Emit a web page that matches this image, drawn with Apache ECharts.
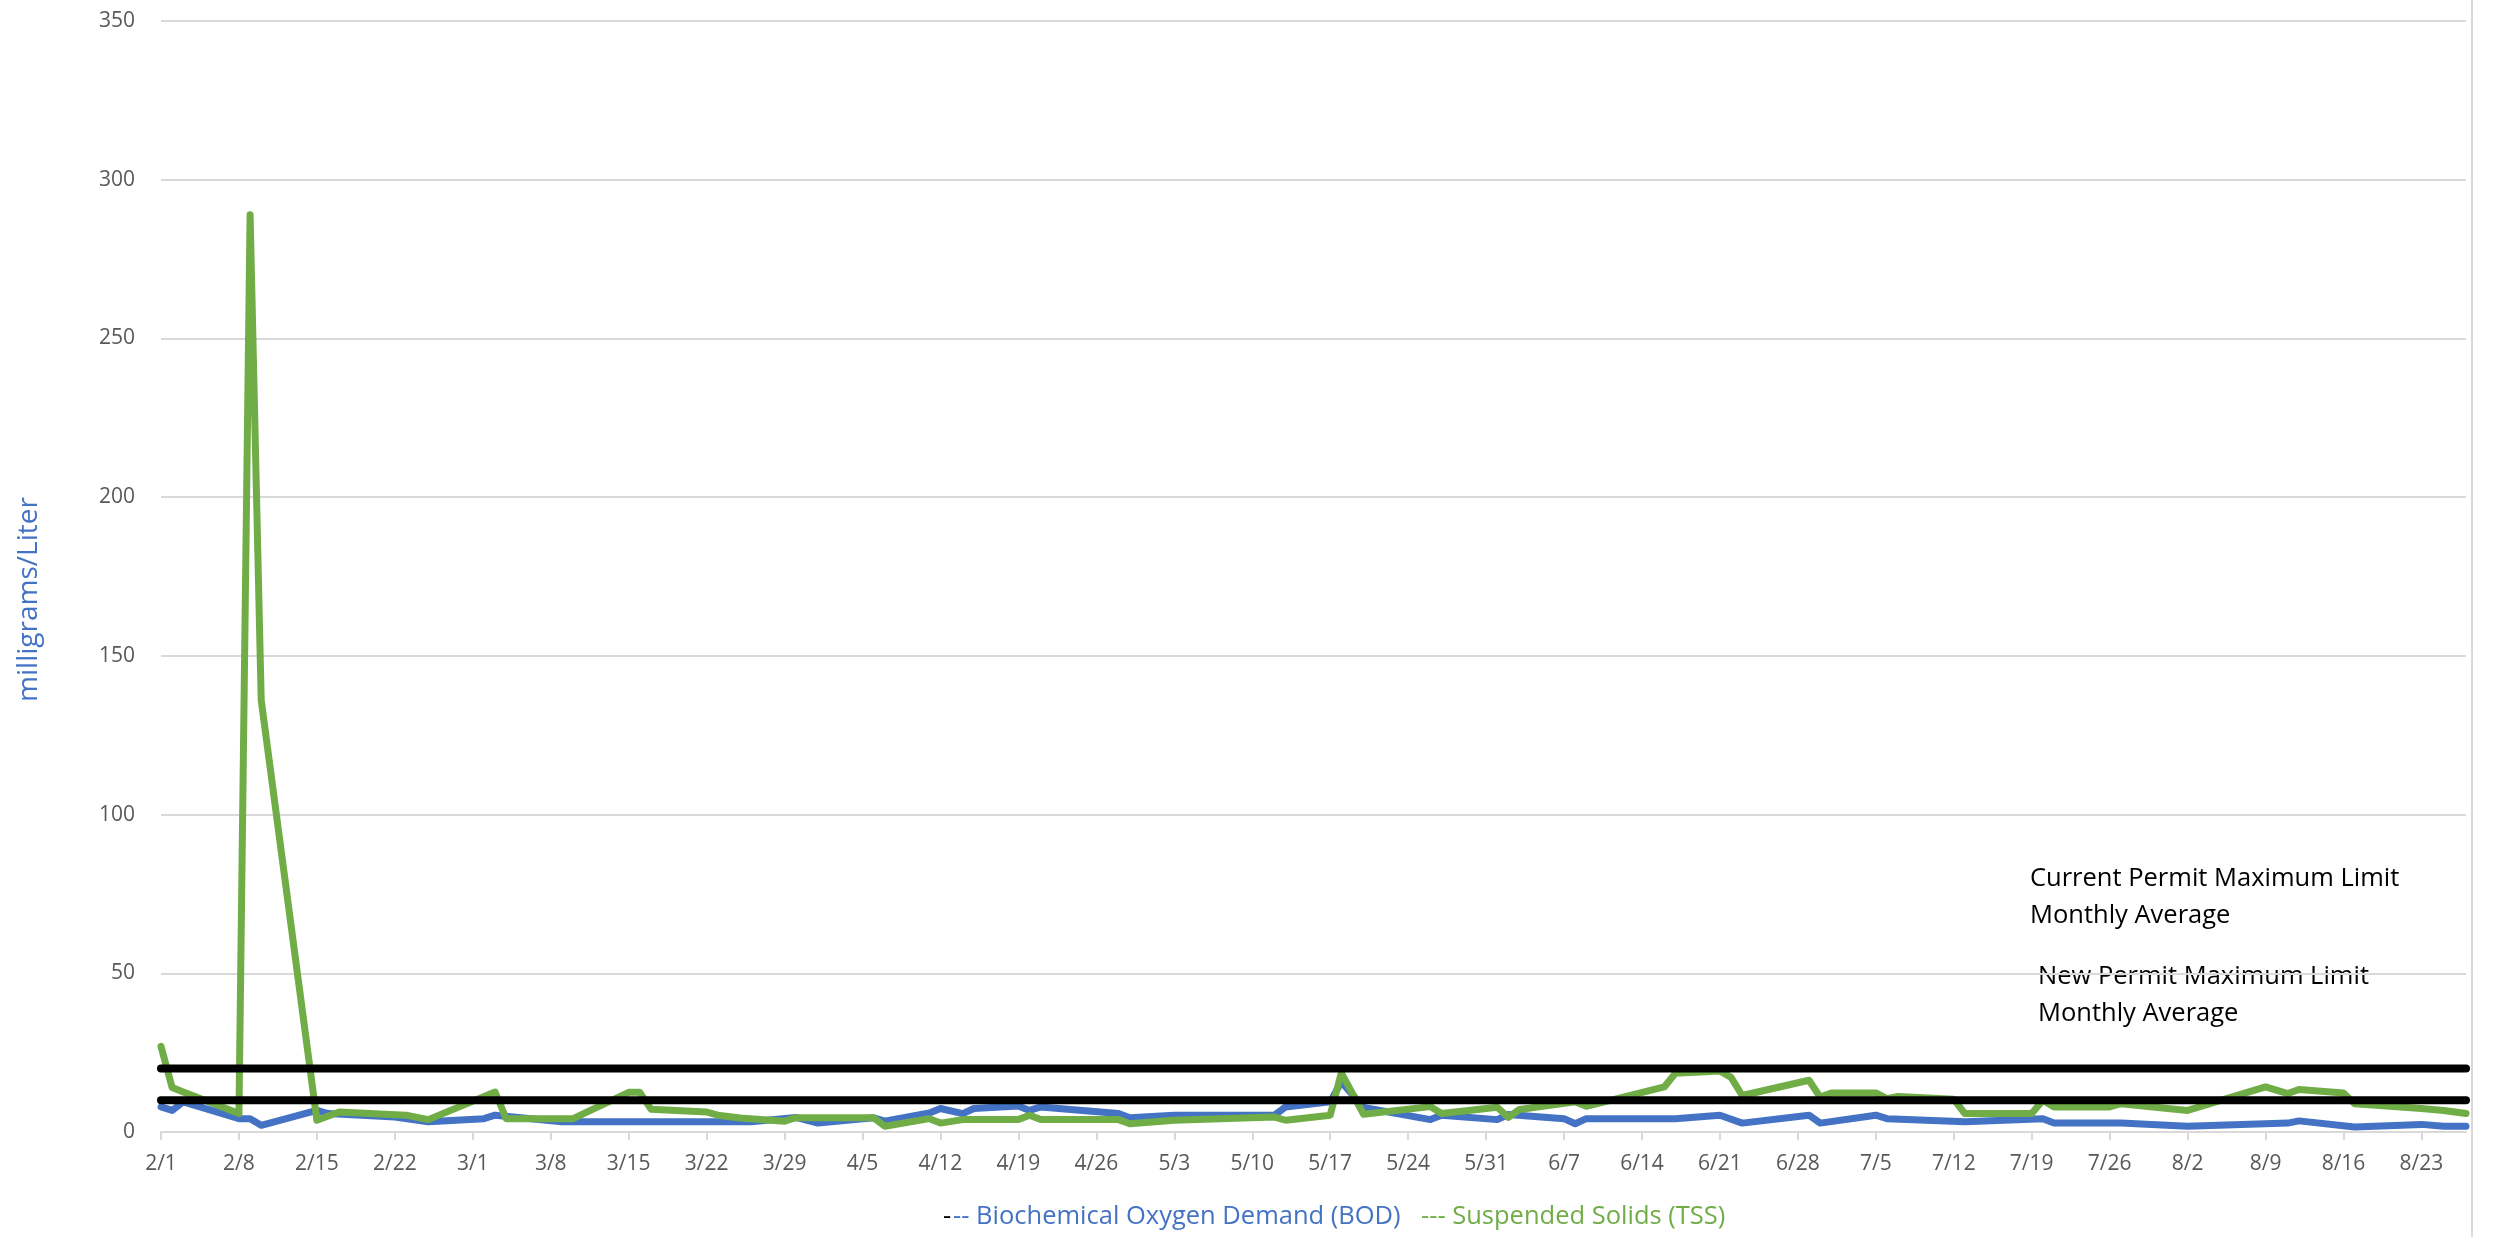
<!DOCTYPE html>
<html>
<head>
<meta charset="utf-8">
<title>BOD / TSS</title>
<script src="https://cdn.jsdelivr.net/npm/echarts@6/dist/echarts.min.js"></script>
<style>
  html, body { margin: 0; padding: 0; background: #fff; }
  #chart { width: 2495px; height: 1237px; }
</style>
</head>
<body>
<div id="chart"></div>
<script>
// sample dates and values (mg/L)
const bodDates = ['2/1', '2/2', '2/3', '2/8', '2/9', '2/10', '2/15', '2/16', '2/22', '2/25',
  '3/2', '3/3', '3/9', '3/26', '3/30', '4/1', '4/6', '4/7', '4/11', '4/12',
  '4/14', '4/15', '4/19', '4/20', '4/21', '4/28', '4/29', '5/3', '5/12', '5/13',
  '5/17', '5/18', '5/20', '5/26', '5/27', '6/1', '6/2', '6/7', '6/8', '6/9',
  '6/17', '6/21', '6/23', '6/29', '6/30', '7/5', '7/6', '7/13', '7/20', '7/21',
  '7/27', '8/2', '8/11', '8/12', '8/17', '8/23', '8/25', '8/27']
const bodValues = [7.9, 6.8, 9.5, 4.2, 4.2, 2.1, 6.8, 5.8, 4.7, 3.2,
  4.2, 5.3, 3.2, 3.2, 4.6, 2.8, 4.5, 3.4, 6.0, 7.4,
  5.8, 7.4, 8.2, 6.8, 7.9, 5.8, 4.5, 5.3, 5.3, 7.9,
  9.5, 15.8, 7.7, 3.9, 5.3, 3.9, 5.5, 4.2, 2.6, 4.2,
  4.2, 5.3, 2.8, 5.3, 2.8, 5.3, 4.2, 3.2, 4.2, 2.8,
  2.8, 1.8, 2.8, 3.5, 1.6, 2.4, 1.8, 1.8]

const tssDates = ['2/1', '2/2', '2/3', '2/8', '2/9', '2/10', '2/15', '2/17', '2/23', '2/25',
  '3/3', '3/4', '3/10', '3/15', '3/16', '3/17', '3/22', '3/23', '3/25', '3/29',
  '3/30', '4/6', '4/7', '4/11', '4/12', '4/14', '4/19', '4/20', '4/21', '4/28',
  '4/29', '5/3', '5/12', '5/13', '5/17', '5/18', '5/20', '5/26', '5/27', '6/1',
  '6/2', '6/3', '6/8', '6/9', '6/16', '6/17', '6/21', '6/22', '6/23', '6/29',
  '6/30', '7/1', '7/5', '7/6', '7/7', '7/12', '7/13', '7/19', '7/20', '7/21',
  '7/26', '7/27', '8/2', '8/9', '8/11', '8/12', '8/16', '8/17', '8/23', '8/25', '8/27']
const tssValues = [27, 14, 12.6, 5.8, 289, 136, 3.7, 6.3, 5.3, 3.9,
  12.6, 4.2, 4.2, 12.5, 12.5, 7.2, 6.3, 5.3, 4.4, 3.4,
  4.5, 4.5, 1.8, 4.2, 2.8, 3.9, 3.9, 5.3, 3.9, 3.9,
  2.6, 3.7, 4.7, 3.7, 5.3, 18.6, 5.6, 8.0, 5.8, 7.8,
  4.6, 7.1, 9.5, 8.1, 14.2, 18.5, 19.2, 17.2, 11.5, 16.3,
  11.0, 12.3, 12.3, 10.5, 11.2, 10.3, 5.8, 5.8, 10.0, 7.9,
  7.9, 8.9, 6.8, 14.2, 12.1, 13.4, 12.3, 8.9, 7.4, 6.8, 5.8]

// permit limits (monthly average)
const currentLimit = 20
const newLimit = 10

const yTicks = [0, 50, 100, 150, 200, 250, 300, 350]

// one category per day, 2/1 .. 8/27
const days = []
for (let d = new Date(2021, 1, 1); d <= new Date(2021, 7, 27); d.setDate(d.getDate() + 1)) {
  days.push(`${d.getMonth() + 1}/${d.getDate()}`)
}

const pairs = (xs, ys) => xs.map((x, i) => [x, ys[i]])
const first = days[0]
const last = days[days.length - 1]

const gray = '#595959'
const font = 'Open Sans'

const chart = echarts.init(document.getElementById('chart'))
chart.setOption({
  animation: false,
  backgroundColor: '#fff',
  grid: { left: 161, right: 29, top: 21, bottom: 105 },
  xAxis: {
    type: 'category',
    data: days,
    boundaryGap: false,
    axisLine: { lineStyle: { color: '#d9d9d9', width: 2 } },
    axisTick: { interval: 6, length: 8, lineStyle: { color: '#d9d9d9', width: 2 } },
    axisLabel: { interval: 6, color: gray, fontSize: 21, fontFamily: font, margin: 22 },
    splitLine: { show: false }
  },
  yAxis: {
    type: 'value',
    min: yTicks[0],
    max: yTicks[yTicks.length - 1],
    interval: 50,
    name: 'milligrams/Liter',
    nameLocation: 'middle',
    nameGap: 118,
    // pushed a bit below the middle, as in the original
    nameTextStyle: { color: '#4472C4', fontSize: 28, fontFamily: font, padding: [0, 46, 0, 0] },
    axisLine: { show: false },
    axisTick: { show: false },
    axisLabel: { color: gray, fontSize: 21, fontFamily: font, margin: 26 },
    splitLine: { lineStyle: { color: '#d9d9d9', width: 2 } }
  },
  series: [
    {
      name: 'BOD',
      type: 'line',
      data: pairs(bodDates, bodValues),
      showSymbol: false,
      lineStyle: { color: '#4472C4', width: 7, cap: 'round', join: 'round' },
      z: 2
    },
    {
      name: 'TSS',
      type: 'line',
      data: pairs(tssDates, tssValues),
      showSymbol: false,
      lineStyle: { color: '#70AD47', width: 7, cap: 'round', join: 'round' },
      z: 3
    },
    {
      name: 'Current Permit',
      type: 'line',
      data: [[first, currentLimit], [last, currentLimit]],
      showSymbol: false,
      lineStyle: { color: '#000', width: 8, cap: 'round' },
      z: 4
    },
    {
      name: 'New Permit',
      type: 'line',
      data: [[first, newLimit], [last, newLimit]],
      showSymbol: false,
      lineStyle: { color: '#000', width: 8, cap: 'round' },
      z: 4
    }
  ],
  graphic: [
    {
      type: 'text', left: 2030, top: 860,
      style: { text: 'Current Permit Maximum Limit\nMonthly Average', fill: '#000', font: `25.5px "${font}"`, lineHeight: 37 }
    },
    {
      type: 'text', left: 2038, top: 958,
      style: { text: 'New Permit Maximum Limit\nMonthly Average', fill: '#000', font: `25.5px "${font}"`, lineHeight: 37 }
    },
    {
      type: 'text', left: 943, top: 1204,
      style: { text: '-', fill: '#000', font: `25.5px "${font}"` }
    },
    {
      type: 'text', left: 953, top: 1204,
      style: { text: '-- Biochemical Oxygen Demand (BOD)', fill: '#4472C4', font: `25.5px "${font}"` }
    },
    {
      type: 'text', left: 1421, top: 1204,
      style: { text: '--- Suspended Solids (TSS)', fill: '#70AD47', font: `25.5px "${font}"` }
    },
    {
      type: 'line', shape: { x1: 2472, y1: 0, x2: 2472, y2: 1237 },
      style: { stroke: '#d9d9d9', lineWidth: 2 }
    }
  ]
})
</script>
</body>
</html>
